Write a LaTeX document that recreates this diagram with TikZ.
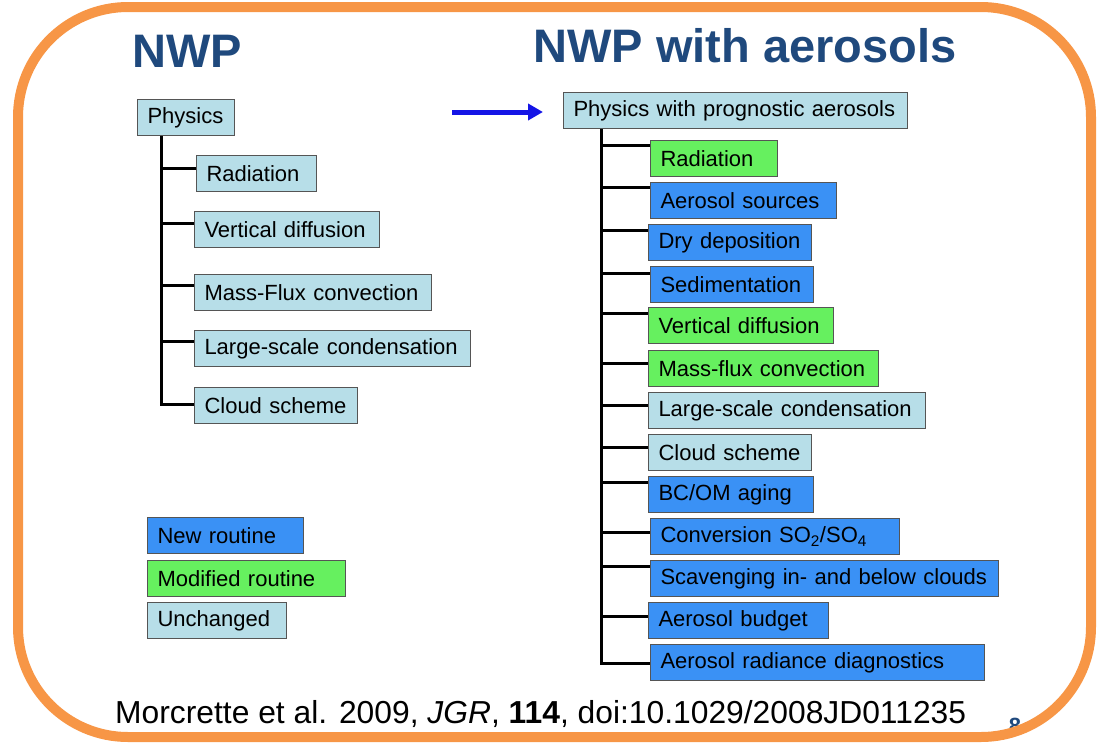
\documentclass[tikz,border=0pt]{standalone}
\usepackage{fontspec}
\setmainfont{Liberation Sans}
\usetikzlibrary{arrows.meta}
\definecolor{orangec}{RGB}{247,150,70}
\definecolor{titlec}{RGB}{31,73,125}
\definecolor{lightc}{RGB}{183,222,232}
\definecolor{bluec}{RGB}{58,145,245}
\definecolor{greenc}{RGB}{102,240,95}
\definecolor{boxline}{RGB}{85,85,85}
\definecolor{arrowc}{RGB}{20,20,230}
\begin{document}
\begin{tikzpicture}[x=1pt,y=-1pt,
  bx/.style={draw=boxline, line width=1pt, anchor=north west, minimum height=36pt,
    inner xsep=10pt, inner ysep=0pt, align=left, font=\fontsize{22}{24}\selectfont},
  unch/.style={bx, fill=lightc},
  newr/.style={bx, fill=bluec},
  modr/.style={bx, fill=greenc},
  trunk/.style={line width=3pt, black},
  title/.style={text=titlec, font=\bfseries\fontsize{47}{50}\selectfont, anchor=base, inner sep=0pt}]
\useasboundingbox (0,0) rectangle (1101,745);
\node[anchor=north, inner sep=0pt, text=titlec, font=\bfseries\fontsize{22}{22}\selectfont] (pg) at (1015,718) {8};
\draw[line width=10pt, orangec, rounded corners=110pt] (18,7) rectangle (1091,737);

% titles
\node[title] (t1) at (187,67) {NWP};
\node[title] (t2) at (745,62) {NWP with aerosols};

% left tree
\node[unch, text width=77pt] (phys) at (137,99) {Physics};
\node[unch, text width=100pt] (lrad) at (196,155) {Radiation};
\node[unch, text width=165pt] (lvd) at (194,211) {Vertical diffusion};
\node[unch, text width=217pt] (lmf) at (194,274) {Mass-Flux convection};
\node[unch, text width=256pt] (llsc) at (194,330) {Large-scale condensation};
\node[unch, text width=143pt] (lcs) at (194,387) {Cloud scheme};

\coordinate (lb1) at (161,168);
\coordinate (lb2) at (161,223);
\coordinate (lb3) at (161,285);
\coordinate (lb4) at (161,341);
\coordinate (lb5) at (161,404);
\draw[trunk] (phys.south -| lb5) -- (lb5) -- (lb5 -| lcs.west);
\draw[trunk] (lb1) -- (lb1 -| lrad.west);
\draw[trunk] (lb2) -- (lb2 -| lvd.west);
\draw[trunk] (lb3) -- (lb3 -| lmf.west);
\draw[trunk] (lb4) -- (lb4 -| llsc.west);

% arrow
\coordinate (a1) at (452,112);
\coordinate (a2) at (543,112);
\draw[arrowc, line width=5pt, -{Triangle[length=15pt,width=16pt]}] (a1) -- (a2);

% right tree
\node[unch, text width=324pt] (p2) at (563,92) {Physics with prognostic aerosols};
\node[modr, text width=107pt] (r1) at (650,140) {Radiation};
\node[newr, text width=166pt] (r2) at (650,182) {Aerosol sources};
\node[newr, text width=143pt] (r3) at (648,224) {Dry deposition};
\node[newr, text width=143pt] (r4) at (650,266) {Sedimentation};
\node[modr, text width=165pt] (r5) at (648,307) {Vertical diffusion};
\node[modr, text width=210pt] (r6) at (648,350) {Mass-flux convection};
\node[unch, text width=257pt] (r7) at (648,392) {Large-scale condensation};
\node[unch, text width=143pt] (r8) at (648,434) {Cloud scheme};
\node[newr, text width=145pt] (r9) at (648,476) {BC/OM aging};
\node[newr, text width=229pt] (r10) at (650,518) {Conversion SO\textsubscript{2}/SO\textsubscript{4}};
\node[newr, text width=328pt] (r11) at (650,560) {Scavenging in- and below clouds};
\node[newr, text width=160pt] (r12) at (648,602) {Aerosol budget};
\node[newr, text width=314pt] (r13) at (650,644) {Aerosol radiance diagnostics};

\coordinate (rb1) at (601,145);
\coordinate (rb2) at (601,187);
\coordinate (rb3) at (601,230);
\coordinate (rb4) at (601,273);
\coordinate (rb5) at (601,313);
\coordinate (rb6) at (601,363);
\coordinate (rb7) at (601,405);
\coordinate (rb8) at (601,447);
\coordinate (rb9) at (601,482);
\coordinate (rb10) at (601,532);
\coordinate (rb11) at (601,566);
\coordinate (rb12) at (601,616);
\coordinate (rb13) at (601,663);
\draw[trunk] (p2.south -| rb13) -- (rb13) -- (rb13 -| r13.west);
\foreach \i in {1,...,12} {\draw[trunk] (rb\i) -- (rb\i -| r\i.west);}

% legend
\node[newr, text width=136pt] (lg1) at (147,517) {New routine};
\node[modr, text width=178pt] (lg2) at (147,560) {Modified routine};
\node[unch, text width=119pt] (lg3) at (147,602) {Unchanged};

% citation
\node[anchor=base west, inner sep=0pt, font=\fontsize{31.8}{33}\selectfont] (cite) at (115,723)
  {Morcrette et al. 2009, \textit{JGR}, \textbf{114}, doi:10.1029/2008JD011235};
\end{tikzpicture}
\end{document}
